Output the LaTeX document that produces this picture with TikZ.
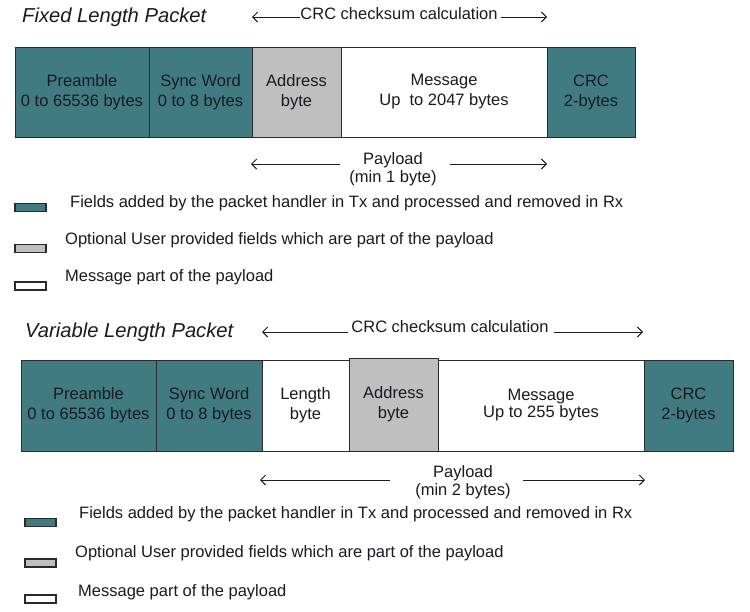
\documentclass[tikz,border=0pt]{standalone}
\usepackage{fontspec}
\setmainfont{Liberation Sans}
\usetikzlibrary{arrows.meta}
\definecolor{tealf}{HTML}{3F7B81}
\definecolor{grayf}{HTML}{BFBFBF}
\definecolor{edgec}{HTML}{2A2A2A}
\definecolor{txt}{HTML}{1A1A22}
\begin{document}
\begin{tikzpicture}[x=1pt,y=-1pt,
  field/.style={draw=edgec, line width=1pt, inner sep=0pt, align=center, text=txt,
    font=\fontsize{16.5}{20}\selectfont},
  lbl/.style={inner sep=0pt, text=txt, font=\fontsize{16.5}{18}\selectfont},
  ttl/.style={inner sep=0pt, text=txt, font=\fontsize{20.2}{23}\selectfont\itshape},
  swatch/.style={draw=edgec, line width=1.2pt, inner sep=0pt, minimum width=31pt, minimum height=8pt},
  arr/.style={draw=txt, line width=1pt, -{Straight Barb[length=5pt,width=10pt]}}]
\fill[white] (0,0) rectangle (750,611);
\useasboundingbox (0,0) rectangle (750,611);

% ---------------- Fixed length packet ----------------
\node[ttl, anchor=west] (t1) at (22,17) {Fixed Length Packet};
\node[lbl] (crc1t) at (399,14) {CRC checksum calculation};
\coordinate (c1l) at (252,17);
\coordinate (c1r) at (547,17);
\draw[arr] (crc1t.west |- c1l) -- (c1l);
\draw[arr] ([xshift=3pt]crc1t.east |- c1r) -- (c1r);

\node[field, fill=tealf, minimum width=134pt, minimum height=90pt] (pre1) at (82,92) {Preamble\\0 to 65536 bytes};
\node[field, fill=tealf, minimum width=103pt, minimum height=90pt] (syn1) at (200.5,92) {Sync Word\\0 to 8 bytes};
\node[field, fill=grayf, minimum width=89pt, minimum height=90pt] (adr1) at (296.5,92) {Address\\byte};
\node[field, fill=white, minimum width=206pt, minimum height=90pt] (msg1) at (444,92) {Message\\Up\ \ to 2047 bytes};
\node[field, fill=tealf, minimum width=88pt, minimum height=90pt] (crc1) at (591,92) {CRC\\2-bytes};

\node[lbl, align=center] (pay1) at (393,169) {Payload\\(min 1 byte)};
\coordinate (p1a) at (340,164);
\coordinate (p1l) at (251,164);
\coordinate (p1b) at (450,164);
\coordinate (p1r) at (547,164);
\draw[arr] (p1a) -- (p1l);
\draw[arr] (p1b) -- (p1r);

\node[swatch, fill=tealf] (s1a) at (30.5,207.5) {};
\node[swatch, fill=grayf] (s1b) at (30.5,248.5) {};
\node[swatch, fill=white] (s1c) at (30.5,286) {};
\node[lbl, anchor=west] (l1a) at (70,203) {Fields added by the packet handler in Tx and processed and removed in Rx};
\node[lbl, anchor=west] (l1b) at (65,240) {Optional User provided fields which are part of the payload};
\node[lbl, anchor=west] (l1c) at (65,277) {Message part of the payload};

% ---------------- Variable length packet ----------------
\node[ttl, anchor=west] (t2) at (25,332) {Variable Length Packet};
\node[lbl] (crc2t) at (450,327) {CRC checksum calculation};
\coordinate (c2l) at (262,332);
\coordinate (c2r) at (643,332);
\draw[arr] ([xshift=-3pt]crc2t.west |- c2l) -- (c2l);
\draw[arr] ([xshift=5pt]crc2t.east |- c2r) -- (c2r);

\node[field, fill=tealf, minimum width=135pt, minimum height=91pt] (pre2) at (88.5,405.5) {Preamble\\0 to 65536 bytes};
\node[field, fill=tealf, minimum width=106pt, minimum height=91pt] (syn2) at (209,405.5) {Sync Word\\0 to 8 bytes};
\node[field, fill=white, minimum width=87pt, minimum height=91pt] (len2) at (305.5,405.5) {Length\\byte};
\node[field, fill=grayf, minimum width=89pt, minimum height=93pt] (adr2) at (393.5,404.5) {Address\\byte};
\node[field, fill=white, minimum width=206pt, minimum height=91pt, font=\fontsize{16.5}{17}\selectfont] (msg2) at (541,405.5) {Message\\Up to 255 bytes};
\node[field, fill=tealf, minimum width=89pt, minimum height=91pt] (crc2) at (688.5,405.5) {CRC\\2-bytes};

\node[lbl, align=center] (pay2) at (463,482.5) {Payload\\(min 2 bytes)};
\coordinate (p2a) at (390,480);
\coordinate (p2l) at (260,480);
\coordinate (p2b) at (523,480);
\coordinate (p2r) at (645,480);
\draw[arr] (p2a) -- (p2l);
\draw[arr] (p2b) -- (p2r);

\node[swatch, fill=tealf] (s2a) at (40.5,522.5) {};
\node[swatch, fill=grayf] (s2b) at (40.5,563) {};
\node[swatch, fill=white] (s2c) at (40.5,599) {};
\node[lbl, anchor=west] (l2a) at (79,514) {Fields added by the packet handler in Tx and processed and removed in Rx};
\node[lbl, anchor=west] (l2b) at (75,553) {Optional User provided fields which are part of the payload};
\node[lbl, anchor=west] (l2c) at (78,592) {Message part of the payload};
\end{tikzpicture}
\end{document}
